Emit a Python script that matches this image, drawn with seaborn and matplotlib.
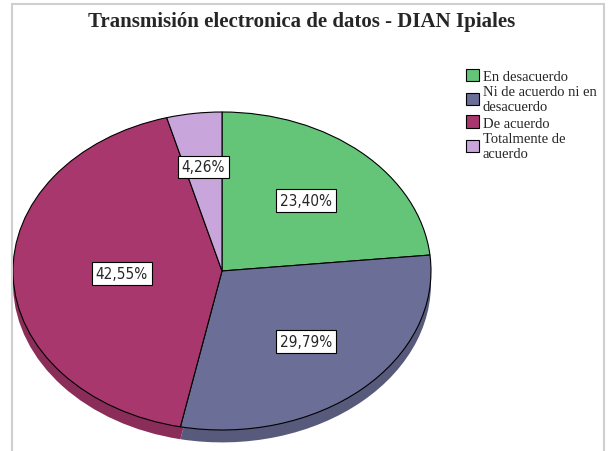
import matplotlib
matplotlib.use("Agg")
import matplotlib.pyplot as plt
from matplotlib.patches import Rectangle
import numpy as np
import seaborn as sns

# Data
categories = ["En desacuerdo", "Ni de acuerdo ni en desacuerdo", "De acuerdo", "Totalmente de acuerdo"]
legend_labels = ["En desacuerdo", "Ni de acuerdo ni en\ndesacuerdo", "De acuerdo", "Totalmente de\nacuerdo"]
percentages = [23.40, 29.79, 42.55, 4.26]
title = "Transmisión electronica de datos - DIAN Ipiales"

# Style
sns.set_theme(style="white")
plt.rcParams["font.family"] = ["Liberation Serif", "DejaVu Serif"]

top_colors = sns.color_palette(["#64C578", "#6B6E96", "#A8376D", "#C8A6DC"])
side_colors = [tuple(np.array(c) * 0.82) for c in top_colors]
label_dist = [0.60, 0.60, 0.48, 0.66]

fig = plt.figure(figsize=(6.15, 4.52), dpi=100)
ax = fig.add_axes([0, 0, 1, 1])

# Extruded side of the tilted pie, then the top face
depth = 0.078
ax.pie(percentages, colors=side_colors, startangle=90, counterclock=False,
       center=(0, -depth), wedgeprops=dict(linewidth=0))
wedges, _ = ax.pie(percentages, colors=top_colors, startangle=90, counterclock=False,
                   wedgeprops=dict(edgecolor="black", linewidth=0.8))

# Squash the circle into an ellipse to fake the perspective
ax.set_aspect("auto")
ax.set_xlim(-222 / 209, 393 / 209)
ax.set_ylim(-180 / 159, 272 / 159)
ax.axis("off")

# Percentage labels in boxed text
for w, p, r in zip(wedges, percentages, label_dist):
    ang = np.deg2rad((w.theta1 + w.theta2) / 2)
    ax.text(r * np.cos(ang), r * np.sin(ang), f"{p:.2f}%".replace(".", ","),
            ha="center", va="center", fontsize=11, family="DejaVu Sans",
            fontstretch="condensed",
            bbox=dict(boxstyle="square,pad=0.25", fc="white", ec="black", lw=0.8))

fig.text(0.49, 1 - 22 / 452, title, ha="center", va="center",
         fontsize=15, fontweight="bold")

fig.legend(wedges, legend_labels, loc="upper left",
           bbox_to_anchor=(466 / 615, 1 - 70 / 452), frameon=False,
           handlelength=0.9, handleheight=0.9, handletextpad=0.25,
           labelspacing=0.15, borderpad=0, borderaxespad=0, fontsize=10.5)

# Light outer frame
fig.add_artist(Rectangle((12 / 615, -0.05), 592 / 615, 1.05 - 5 / 452,
                         transform=fig.transFigure, fill=False,
                         ec="#cfcfcf", lw=1.5))

fig.savefig("out.png", dpi=100)
